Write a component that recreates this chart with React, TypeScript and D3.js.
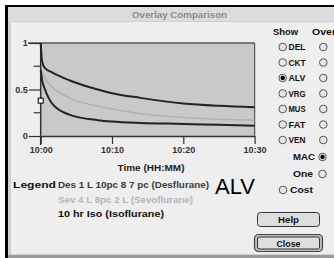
import React, { useEffect, useRef } from "react";
import * as d3 from "d3";

// minutes after 10:00
const times = [0, 0.2, 0.6, 1.7, 4, 8, 10, 14, 20, 25, 30];
const desValues = [1.0, 0.8, 0.73, 0.68, 0.6, 0.5, 0.46, 0.41, 0.35, 0.325, 0.31];
const sevValues = [0.71, 0.68, 0.62, 0.52, 0.41, 0.32, 0.29, 0.24, 0.2, 0.18, 0.17];
const isoValues = [0.71, 0.6, 0.5, 0.34, 0.23, 0.17, 0.155, 0.14, 0.13, 0.12, 0.11];
const markerValue = 0.38;

const xTicks = [0, 10, 20, 30];
const xTickLabels = ["10:00", "10:10", "10:20", "10:30"];
const yTicks = [0, 0.5, 1];
const yMinorTicks = [0.25, 0.75];

const compartments = ["DEL", "CKT", "ALV", "VRG", "MUS", "FAT", "VEN"];
const selectedShow = "ALV";

const legendLines = [
  { text: "Des 1 L 10pc 8 7 pc (Desflurane)", color: "#3a3a3a", width: 151 },
  { text: "Sev 4 L 8pc 2 L (Sevoflurane)", color: "#b4b4b4", width: 135 },
  { text: "10 hr Iso (Isoflurane)", color: "#111", width: 106 },
];

const FONT = "'Liberation Sans', 'DejaVu Sans', sans-serif";

const OverlayChart = () => {
  const width = 334;
  const height = 258;
  const ref = useRef(null);

  useEffect(() => {
    const svg = d3.select(ref.current);
    svg.selectAll("*").remove();

    // window frame
    svg.append("rect").attr("width", width).attr("height", height).attr("fill", "#fff");
    svg.append("rect").attr("x", 5).attr("y", 5).attr("width", width).attr("height", height).attr("fill", "#000");
    svg.append("rect").attr("x", 8).attr("y", 7).attr("width", width).attr("height", 14).attr("fill", "#dcdcdc");
    svg.append("rect").attr("x", 8).attr("y", 21).attr("width", width).attr("height", 234).attr("fill", "#d0d0d0");
    svg.append("rect").attr("x", 11).attr("y", 22).attr("width", width).attr("height", 232).attr("fill", "#eeeeee");
    svg.append("rect").attr("x", 8).attr("y", 255).attr("width", width).attr("height", 3).attr("fill", "#9a9a9a");

    svg
      .append("text")
      .attr("x", 179.5)
      .attr("y", 17.5)
      .attr("text-anchor", "middle")
      .attr("font-family", FONT)
      .attr("font-weight", "bold")
      .attr("font-size", 9)
      .attr("fill", "#8a8a8a")
      .attr("textLength", 95)
      .attr("lengthAdjust", "spacingAndGlyphs")
      .text("Overlay Comparison");

    const xScale = d3.scaleLinear().domain([0, 30]).range([40.7, 254.6]);
    const yScale = d3.scaleLinear().domain([0, 1]).range([136, 43]);

    // plot area
    svg
      .append("rect")
      .attr("x", xScale(0))
      .attr("y", yScale(1))
      .attr("width", xScale(30) - xScale(0))
      .attr("height", yScale(0) - yScale(1))
      .attr("fill", "#c9c9c9");

    svg
      .append("line")
      .attr("x1", 28)
      .attr("x2", xScale(30))
      .attr("y1", yScale(1))
      .attr("y2", yScale(1))
      .attr("stroke", "#555")
      .attr("stroke-width", 1.5);

    const xAxis = svg
      .append("g")
      .attr("transform", `translate(0,${yScale(0)})`)
      .call(
        d3
          .axisBottom(xScale)
          .tickValues(xTicks)
          .tickSize(8)
          .tickSizeOuter(0)
          .tickPadding(3)
          .tickFormat((d, i) => xTickLabels[i])
      );
    xAxis.select(".domain").attr("stroke", "#333").attr("stroke-width", 1.5);
    xAxis.selectAll(".tick line").attr("stroke", "#333").attr("stroke-width", 1.2);
    xAxis
      .selectAll(".tick text")
      .attr("font-family", FONT)
      .attr("font-weight", "bold")
      .attr("font-size", 9)
      .attr("fill", "#333");

    // right border
    svg
      .append("line")
      .attr("x1", xScale(30))
      .attr("x2", xScale(30))
      .attr("y1", yScale(1))
      .attr("y2", yScale(0))
      .attr("stroke", "#555")
      .attr("stroke-width", 1.2);

    const yAxis = svg
      .append("g")
      .attr("transform", `translate(${xScale(0)},0)`)
      .call(
        d3
          .axisLeft(yScale)
          .tickValues(yTicks)
          .tickSize(12)
          .tickSizeOuter(0)
          .tickPadding(1)
          .tickFormat((d) => `${d}`)
      );
    yAxis.select(".domain").attr("stroke", "#333").attr("stroke-width", 1.5).attr("d", `M0,${yScale(1)}V${yScale(0) + 9}`);
    yAxis.selectAll(".tick line").attr("stroke", "#333").attr("stroke-width", 1.2);
    yAxis
      .selectAll(".tick text")
      .attr("font-family", FONT)
      .attr("font-weight", "bold")
      .attr("font-size", 9)
      .attr("fill", "#333");

    svg
      .append("g")
      .selectAll("line")
      .data(yMinorTicks)
      .enter()
      .append("line")
      .attr("x1", xScale(0) - 7)
      .attr("x2", xScale(0))
      .attr("y1", (d) => yScale(d))
      .attr("y2", (d) => yScale(d))
      .attr("stroke", "#333")
      .attr("stroke-width", 1.2);

    const line = d3
      .line()
      .x((d) => xScale(d[0]))
      .y((d) => yScale(d[1]))
      .curve(d3.curveMonotoneX);

    const series = [
      { values: sevValues, color: "#b0b0b0", w: 1.5 },
      { values: isoValues, color: "#222", w: 2 },
      { values: desValues, color: "#222", w: 2 },
    ];
    series.forEach((s) => {
      svg
        .append("path")
        .datum(times.map((t, i) => [t, s.values[i]]))
        .attr("fill", "none")
        .attr("stroke", s.color)
        .attr("stroke-width", s.w)
        .attr("d", line);
    });

    svg
      .append("rect")
      .attr("x", xScale(0) - 2.5)
      .attr("y", yScale(markerValue) - 2.5)
      .attr("width", 5)
      .attr("height", 5)
      .attr("fill", "#fff")
      .attr("stroke", "#000")
      .attr("stroke-width", 1);

    svg
      .append("text")
      .attr("x", 151)
      .attr("y", 171)
      .attr("text-anchor", "middle")
      .attr("font-family", FONT)
      .attr("font-weight", "bold")
      .attr("font-size", 9)
      .attr("fill", "#222")
      .attr("textLength", 67)
      .attr("lengthAdjust", "spacingAndGlyphs")
      .text("Time (HH:MM)");

    // legend
    svg
      .append("text")
      .attr("x", 13)
      .attr("y", 188)
      .attr("font-family", FONT)
      .attr("font-weight", "bold")
      .attr("font-size", 9)
      .attr("fill", "#111")
      .attr("textLength", 43)
      .attr("lengthAdjust", "spacingAndGlyphs")
      .text("Legend");

    svg
      .append("g")
      .selectAll("text")
      .data(legendLines)
      .enter()
      .append("text")
      .attr("x", 58)
      .attr("y", (d, i) => 188 + i * 14.5)
      .attr("font-family", FONT)
      .attr("font-weight", "bold")
      .attr("font-size", 9)
      .attr("fill", (d) => d.color)
      .attr("textLength", (d) => d.width)
      .attr("lengthAdjust", "spacingAndGlyphs")
      .text((d) => d.text);

    svg
      .append("text")
      .attr("x", 215)
      .attr("y", 194)
      .attr("font-family", FONT)
      .attr("font-size", 22)
      .attr("fill", "#000")
      .text(selectedShow);

    // right panel
    const boldText = (x, y, t, anchor = "start", w = null) => {
      const el = svg
        .append("text")
        .attr("x", x)
        .attr("y", y)
        .attr("text-anchor", anchor)
        .attr("font-family", FONT)
        .attr("font-weight", "bold")
        .attr("font-size", 8.5)
        .attr("fill", "#111")
        .text(t);
      if (w) el.attr("textLength", w).attr("lengthAdjust", "spacingAndGlyphs");
      return el;
    };
    const radio = (x, y, on) => {
      svg
        .append("circle")
        .attr("cx", x)
        .attr("cy", y)
        .attr("r", 3.8)
        .attr("fill", "#e6e6e6")
        .attr("stroke", "#555")
        .attr("stroke-width", 1);
      if (on) svg.append("circle").attr("cx", x).attr("cy", y).attr("r", 2.2).attr("fill", "#000");
    };

    boldText(273, 35, "Show", "start", 25);
    boldText(312, 35, "Over", "start", 24);

    const rowY = d3.scaleLinear().domain([0, 1]).range([47, 62.5]);
    compartments.forEach((c, i) => {
      const y = rowY(i);
      radio(282.7, y, c === selectedShow);
      boldText(288.5, y + 3, c, "start", 17);
      radio(323.3, y, false);
    });

    boldText(315, 160, "MAC", "end", 22);
    radio(322.5, 157, true);
    boldText(313, 177, "One", "end", 20);
    radio(322.5, 174, false);
    radio(283, 190, false);
    boldText(290, 193, "Cost", "start", 23);

    // buttons
    svg
      .append("rect")
      .attr("x", 257.5)
      .attr("y", 212.5)
      .attr("width", 62)
      .attr("height", 14)
      .attr("rx", 3)
      .attr("fill", "#dedede")
      .attr("stroke", "#333")
      .attr("stroke-width", 1);
    boldText(288.5, 223, "Help", "middle", 21);

    svg
      .append("rect")
      .attr("x", 254.5)
      .attr("y", 234.5)
      .attr("width", 68)
      .attr("height", 17)
      .attr("rx", 4)
      .attr("fill", "#bdbdbd")
      .attr("stroke", "#444")
      .attr("stroke-width", 1.2);
    svg
      .append("rect")
      .attr("x", 257.5)
      .attr("y", 237)
      .attr("width", 62)
      .attr("height", 12)
      .attr("rx", 2)
      .attr("fill", "#dedede")
      .attr("stroke", "#333")
      .attr("stroke-width", 1);
    boldText(288.5, 246.5, "Close", "middle", 24);
  }, [height, width]);

  return (
    <svg
      ref={ref}
      width={width}
      height={height}
      style={{ position: "absolute", left: 0, top: 0 }}
    />
  );
};

export default function App() {
  return <OverlayChart />;
}
